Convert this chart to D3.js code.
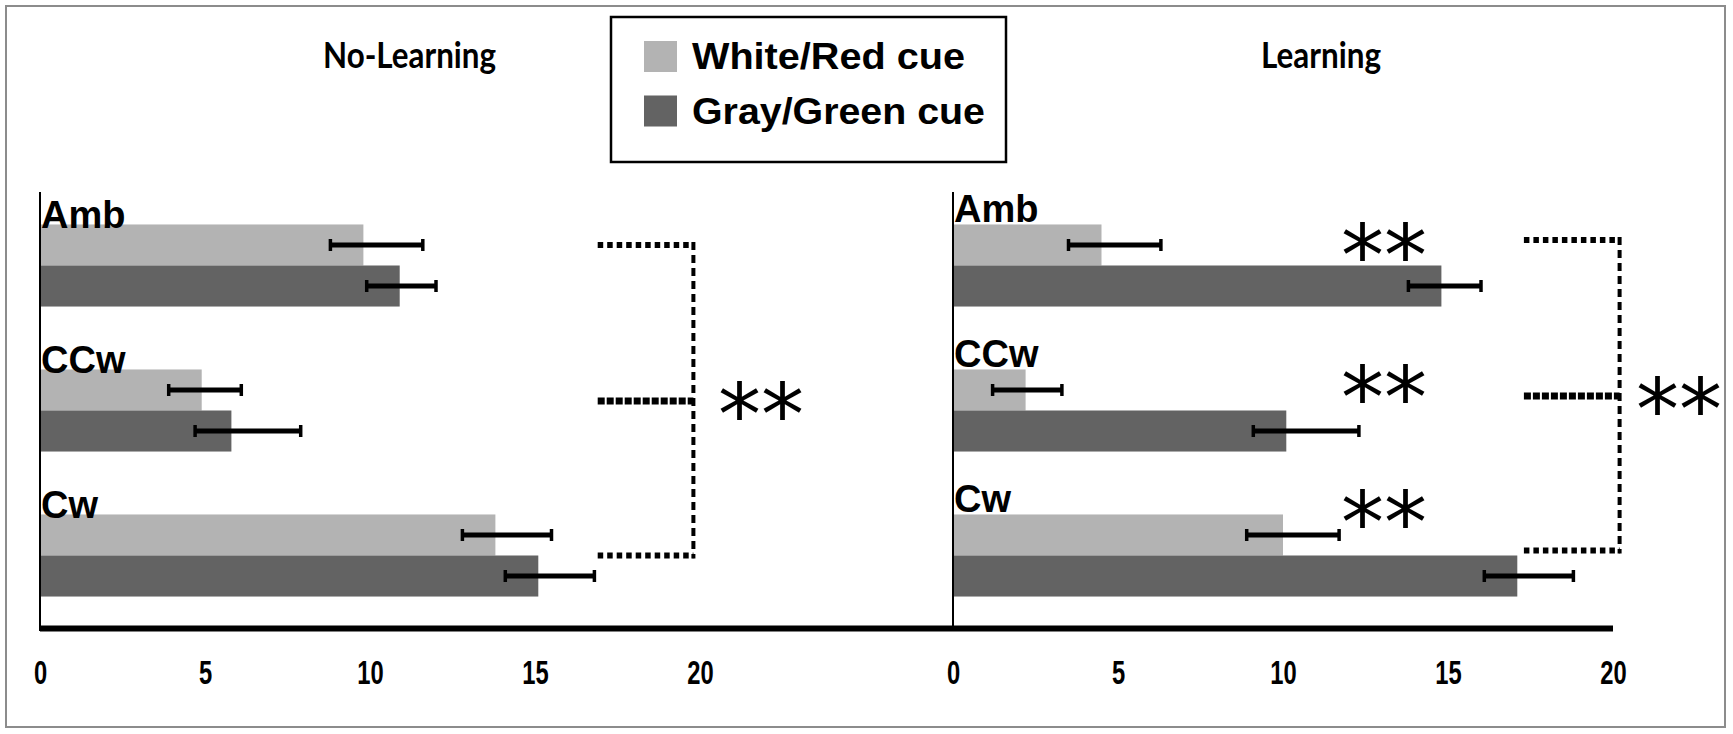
<!DOCTYPE html>
<html>
<head>
<meta charset="utf-8">
<script src="https://cdn.jsdelivr.net/npm/d3@7"></script>
<style>
  body { margin: 0; background: #fff; }
  svg { display: block; }
</style>
</head>
<body>
<div id="chart"></div>
<script>
"use strict";

/* Chart values */

const CATEGORIES = ["Amb", "CCw", "Cw"];
const SERIES = ["White/Red cue", "Gray/Green cue"];
const TICKS = [0, 5, 10, 15, 20];

// No-Learning panel
const noLearnWhite = [9.8, 4.9, 13.8];
const noLearnWhiteLo = [8.8, 3.9, 12.8];
const noLearnWhiteHi = [11.6, 6.1, 15.5];
const noLearnGray = [10.9, 5.8, 15.1];
const noLearnGrayLo = [9.9, 4.7, 14.1];
const noLearnGrayHi = [12.0, 7.9, 16.8];

// Learning panel
const learnWhite = [4.5, 2.2, 10.0];
const learnWhiteLo = [3.5, 1.2, 8.9];
const learnWhiteHi = [6.3, 3.3, 11.7];
const learnGray = [14.8, 10.1, 17.1];
const learnGrayLo = [13.8, 9.1, 16.1];
const learnGrayHi = [16.0, 12.3, 18.8];

const COLORS = ["#b3b3b3", "#636363"];

/* Build rows for each panel */
function rows(white, wLo, wHi, gray, gLo, gHi) {
  const out = [];
  CATEGORIES.forEach((c, i) => {
    out.push({ cat: c, series: SERIES[0], v: white[i], lo: wLo[i], hi: wHi[i] });
    out.push({ cat: c, series: SERIES[1], v: gray[i], lo: gLo[i], hi: gHi[i] });
  });
  return out;
}

const noLearnRows = rows(noLearnWhite, noLearnWhiteLo, noLearnWhiteHi,
  noLearnGray, noLearnGrayLo, noLearnGrayHi);
const learnRows = rows(learnWhite, learnWhiteLo, learnWhiteHi,
  learnGray, learnGrayLo, learnGrayHi);

const W = 1733, H = 734;

const svg = d3.select("#chart")
  .append("svg")
  .attr("width", W)
  .attr("height", H);

// outer frame
svg.append("rect")
  .attr("x", 6).attr("y", 6)
  .attr("width", 1719).attr("height", 721)
  .attr("fill", "none")
  .attr("stroke", "#8c8c8c")
  .attr("stroke-width", 2);

const y = d3.scaleBand()
  .domain(CATEGORIES)
  .range([193, 628])
  .paddingInner(0.434)
  .paddingOuter(0.217);

const ySub = d3.scaleBand()
  .domain(SERIES)
  .range([0, y.bandwidth()]);

const color = d3.scaleOrdinal().domain(SERIES).range(COLORS);

const xL = d3.scaleLinear().domain([0, 20]).range([40, 700]);
const xR = d3.scaleLinear().domain([0, 20]).range([953, 1613]);

/* Draw one panel of bars, error bars and category labels */
function drawPanel(data, x, labelShift) {
  const g = svg.append("g");

  g.selectAll(".bar")
    .data(data)
    .enter()
    .append("rect")
    .attr("class", "bar")
    .attr("x", x(0))
    .attr("y", d => y(d.cat) + ySub(d.series))
    .attr("width", d => x(d.v) - x(0))
    .attr("height", ySub.bandwidth())
    .attr("fill", d => color(d.series));

  const err = g.selectAll(".err")
    .data(data)
    .enter()
    .append("g")
    .attr("class", "err")
    .attr("transform", d => `translate(0,${y(d.cat) + ySub(d.series) + ySub.bandwidth() / 2})`);

  err.append("line")
    .attr("x1", d => x(d.lo))
    .attr("x2", d => x(d.hi))
    .attr("stroke", "#000")
    .attr("stroke-width", 5);
  err.selectAll(".cap")
    .data(d => [d.lo, d.hi])
    .enter()
    .append("line")
    .attr("x1", v => x(v)).attr("x2", v => x(v))
    .attr("y1", -6).attr("y2", 6)
    .attr("stroke", "#000")
    .attr("stroke-width", 3.5);

  // vertical axis line
  g.append("line")
    .attr("x1", x(0)).attr("x2", x(0))
    .attr("y1", 192).attr("y2", 631)
    .attr("stroke", "#000")
    .attr("stroke-width", 2);

  g.selectAll(".cat")
    .data(CATEGORIES)
    .enter()
    .append("text")
    .attr("class", "cat")
    .attr("x", x(0) + 1)
    .attr("y", d => y(d) + labelShift)
    .attr("font-family", "Liberation Sans, Arial, sans-serif")
    .attr("font-weight", "bold")
    .attr("font-size", 38)
    .attr("fill", "#000")
    .text(d => d);

  // tick labels
  const axis = d3.axisBottom(x)
    .tickValues(TICKS)
    .tickSize(0)
    .tickPadding(33)
    .tickFormat(d3.format("d"));
  const ax = g.append("g")
    .attr("transform", "translate(0,628)")
    .call(axis);
  ax.select(".domain").remove();
  ax.selectAll("text")
    .attr("font-family", "Liberation Sans, Arial, sans-serif")
    .attr("font-weight", "bold")
    .attr("font-size", 33)
    .attr("fill", "#000")
    .attr("transform", "scale(0.72,1)");
}

drawPanel(noLearnRows, xL, 4);
drawPanel(learnRows, xR, -2);

// thick baseline running under both panels
svg.append("line")
  .attr("x1", xL(0)).attr("x2", xR(20))
  .attr("y1", 628.5).attr("y2", 628.5)
  .attr("stroke", "#000")
  .attr("stroke-width", 6);

/* Panel titles */
const titles = [
  { text: "No-Learning", x: 323, len: 173 },
  { text: "Learning", x: 1261, len: 120 }
];
svg.selectAll(".title")
  .data(titles)
  .enter()
  .append("text")
  .attr("class", "title")
  .attr("x", d => d.x)
  .attr("y", 68)
  .attr("font-family", "Lato, sans-serif")
  .attr("font-weight", "bold")
  .attr("font-size", 37)
  .attr("textLength", d => d.len)
  .attr("lengthAdjust", "spacingAndGlyphs")
  .text(d => d.text);

/* Legend */
const legend = svg.append("g");
legend.append("rect")
  .attr("x", 611).attr("y", 17)
  .attr("width", 395).attr("height", 145)
  .attr("fill", "#fff")
  .attr("stroke", "#000")
  .attr("stroke-width", 2.5);
const legendLen = [273, 293];
const li = legend.selectAll(".li")
  .data(SERIES)
  .enter()
  .append("g")
  .attr("transform", (d, i) => `translate(0,${i * 54.5})`);
li.append("rect")
  .attr("x", 644).attr("y", 41)
  .attr("width", 33).attr("height", 31)
  .attr("fill", d => color(d));
li.append("text")
  .attr("x", 692).attr("y", 69)
  .attr("font-family", "Liberation Sans, Arial, sans-serif")
  .attr("font-weight", "bold")
  .attr("font-size", 37)
  .attr("textLength", (d, i) => legendLen[i])
  .attr("lengthAdjust", "spacingAndGlyphs")
  .text(d => d);

/* Significance brackets */
const bracketStyle = [
  { w: 6, dash: "5.5 4" },
  { w: 7, dash: "7 2" },
  { w: 6, dash: "5.5 4" }
];

function drawBracket(x, x0, x1, ys) {
  const g = svg.append("g");
  g.selectAll(".arm")
    .data(ys)
    .enter()
    .append("line")
    .attr("x1", x(x0)).attr("x2", x(x1))
    .attr("y1", d => d).attr("y2", d => d)
    .attr("stroke", "#000")
    .attr("stroke-width", (d, i) => bracketStyle[i].w)
    .attr("stroke-dasharray", (d, i) => bracketStyle[i].dash);
  g.append("line")
    .attr("x1", x(x1)).attr("x2", x(x1))
    .attr("y1", ys[0] - 3).attr("y2", ys[2] + 3)
    .attr("stroke", "#000")
    .attr("stroke-width", 4)
    .attr("stroke-dasharray", "8 5");
}

const lightMid = c => y(c) + ySub(SERIES[0]) + ySub.bandwidth() / 2;

drawBracket(xL, 16.9, 19.8,
  [lightMid("Amb"), lightMid("CCw") + 11, y("Cw") + ySub(SERIES[1])]);
drawBracket(xR, 17.3, 20.2,
  [lightMid("Amb") - 5, lightMid("CCw") + 6, y("Cw") + ySub(SERIES[1]) - 5]);

/* Stars */
function stars(xpos, ypos) {
  svg.append("text")
    .attr("x", xpos)
    .attr("y", ypos)
    .attr("text-anchor", "middle")
    .attr("font-family", "DejaVu Sans, sans-serif")
    .attr("font-size", 86)
    .text("**");
}

// per-category stars in Learning panel (vertical shift from white bar centre)
const starShift = [-3, -6, -26];
CATEGORIES.forEach((c, i) => stars(xR(13.06), lightMid(c) + starShift[i] + 44));
stars(xL(21.85), lightMid("CCw") + 55);
stars(xR(22.0), lightMid("CCw") + 50);
</script>
</body>
</html>
